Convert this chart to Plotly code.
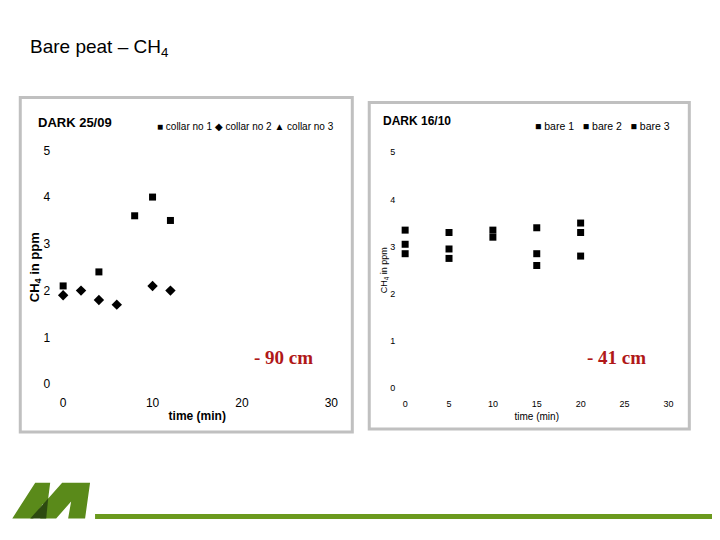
import plotly.graph_objects as go

# --- DATOS ---
T_LEFT_1 = [0, 4, 8, 10, 12]
CH4_LEFT_1 = [2.1, 2.4, 3.6, 4.0, 3.5]
T_LEFT_2 = [0, 2, 4, 6, 10, 12]
CH4_LEFT_2 = [1.9, 2.0, 1.8, 1.7, 2.1, 2.0]

T_BARE_1 = [0, 5, 10, 15, 20]
CH4_BARE_1 = [3.35, 3.3, 3.35, 3.4, 3.5]
T_BARE_2 = [0, 5, 10, 15, 20]
CH4_BARE_2 = [3.05, 2.95, 3.2, 2.85, 3.3]
T_BARE_3 = [0, 5, 15, 20]
CH4_BARE_3 = [2.85, 2.75, 2.6, 2.8]

W, H = 720, 540
FONT = "Liberation Sans"


# pixel de la referencia -> coordenada paper (corrige el desfase observado)
def px(x):
    return min(max(((x - 10.7) / 0.989) / W, 0), 1)


def py(y):
    return min(max(1 - ((y - 14) / 0.979) / H, 0), 1)


fig = go.Figure()

mk = dict(color="black", size=7)
fig.add_trace(go.Scatter(x=T_LEFT_1, y=CH4_LEFT_1, mode="markers", xaxis="x", yaxis="y",
                         marker=dict(mk, symbol="square"), showlegend=False, cliponaxis=False))
fig.add_trace(go.Scatter(x=T_LEFT_2, y=CH4_LEFT_2, mode="markers", xaxis="x", yaxis="y",
                         marker=dict(mk, symbol="diamond", size=8), showlegend=False, cliponaxis=False))
for t, v in [(T_BARE_1, CH4_BARE_1), (T_BARE_2, CH4_BARE_2), (T_BARE_3, CH4_BARE_3)]:
    fig.add_trace(go.Scatter(x=t, y=v, mode="markers", xaxis="x2", yaxis="y2",
                             marker=dict(mk, symbol="square"), showlegend=False, cliponaxis=False))

ax_common = dict(showgrid=False, zeroline=False, showline=False, ticks="")

fig.update_layout(
    width=W, height=H,
    margin=dict(l=0, r=0, t=0, b=0),
    paper_bgcolor="white", plot_bgcolor="white",
    font=dict(family=FONT, color="black"),
    xaxis=dict(ax_common, domain=[px(63), px(332)], range=[0, 30], dtick=10, anchor="y",
               tickfont=dict(size=12), ticklabelstandoff=10,
               title=dict(text="<b>time (min)</b>", font=dict(size=12), standoff=2)),
    yaxis=dict(ax_common, domain=[py(385), py(150)], range=[0, 5], dtick=1, anchor="x",
               ticklabelstandoff=12, tickfont=dict(size=12),
               title=dict(text="<b>CH<sub>4</sub> in ppm</b>", font=dict(size=13), standoff=0)),
    xaxis2=dict(ax_common, domain=[px(406), px(670)], range=[0, 30], dtick=5, anchor="y2",
                tickfont=dict(size=9), ticklabelstandoff=9,
                title=dict(text="time (min)", font=dict(size=10), standoff=4)),
    yaxis2=dict(ax_common, domain=[py(389), py(152)], range=[0, 5], dtick=1, anchor="x2",
                ticklabelstandoff=9, tickfont=dict(size=9),
                title=dict(text="CH<sub>4</sub> in ppm", font=dict(size=9), standoff=0)),
)

# --- PANELES Y LOGO ---
shapes = [
    dict(type="rect", xref="paper", yref="paper", x0=px(20), x1=px(353), y0=py(433), y1=py(97),
         line=dict(color="#c0c0c0", width=3)),
    dict(type="rect", xref="paper", yref="paper", x0=px(370), x1=px(691), y0=py(430), y1=py(102),
         line=dict(color="#c0c0c0", width=3)),
    dict(type="line", xref="paper", yref="paper", x0=px(95), x1=1, y0=py(518), y1=py(518),
         line=dict(color="#6b9a1e", width=5)),
    dict(type="path", xref="paper", yref="paper",
         path=f"M {px(12)} {py(520)} L {px(35)} {py(484)} L {px(50)} {py(484)} L {px(48)} {py(500)} "
              f"L {px(62)} {py(484)} L {px(90)} {py(484)} L {px(85)} {py(520)} L {px(68)} {py(520)} "
              f"L {px(71)} {py(503)} L {px(56)} {py(520)} L {px(40)} {py(520)} L {px(43)} {py(505)} "
              f"L {px(33)} {py(520)} Z",
         fillcolor="#5a8a1a", line=dict(width=0)),
    dict(type="path", xref="paper", yref="paper",
         path=f"M {px(30)} {py(520)} L {px(48)} {py(500)} L {px(46)} {py(520)} Z",
         fillcolor="#2d4a10", line=dict(width=0)),
]
fig.update_layout(shapes=shapes)

ann = [
    (28, 47, "Bare peat – CH<sub>4</sub>", 19, FONT, "black"),
    (36, 122, "<b>DARK 25/09</b>", 13, FONT, "black"),
    (155, 126, "■ collar no 1 ◆ collar no 2 ▲ collar no 3", 10, FONT, "black"),
    (382, 121, "<b>DARK 16/10</b>", 12, FONT, "black"),
    (534, 126, "■ bare 1   ■ bare 2   ■ bare 3", 10.5, FONT, "black"),
    (252, 358, "<b>- 90 cm</b>", 19, "Liberation Serif", "#b01818"),
    (586, 358, "<b>- 41 cm</b>", 19, "Liberation Serif", "#b01818"),
]
for x, y, text, size, fam, col in ann:
    fig.add_annotation(xref="paper", yref="paper", x=px(x), y=py(y), text=text,
                       showarrow=False, xanchor="left", yanchor="middle",
                       font=dict(family=fam, size=size, color=col))

fig.write_html("out.html")
